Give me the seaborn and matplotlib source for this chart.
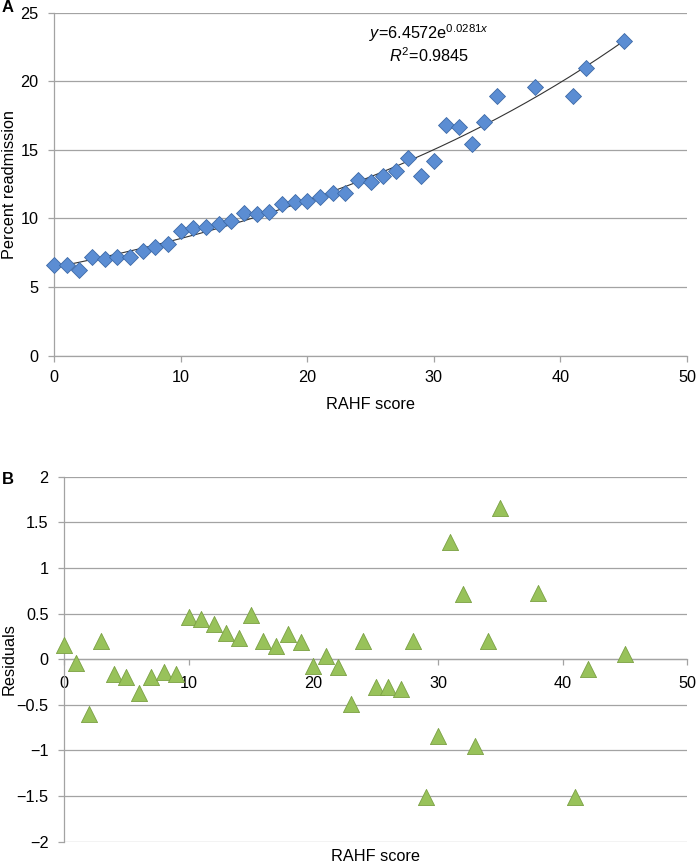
import numpy as np
import pandas as pd
import matplotlib
matplotlib.use("Agg")
import matplotlib.pyplot as plt
from matplotlib.ticker import FuncFormatter, MultipleLocator
import seaborn as sns

# ---- data ----
rahf_score = [0, 1, 2, 3, 4, 5, 6, 7, 8, 9, 10, 11, 12, 13, 14, 15, 16, 17, 18, 19,
              20, 21, 22, 23, 24, 25, 26, 27, 28, 29, 30, 31, 32, 33, 34, 35, 38, 41, 42, 45]
pct_readmission = [6.61, 6.61, 6.25, 7.22, 7.05, 7.17, 7.22, 7.65, 7.90, 8.12,
                   9.11, 9.28, 9.40, 9.60, 9.82, 10.38, 10.30, 10.50, 11.06, 11.22,
                   11.27, 11.59, 11.85, 11.88, 12.80, 12.68, 13.12, 13.46, 14.38, 13.12,
                   14.19, 16.81, 16.65, 15.41, 17.06, 18.95, 19.56, 18.95, 20.95, 22.96]
residuals = [0.16, -0.04, -0.60, 0.20, -0.16, -0.19, -0.37, -0.20, -0.14, -0.16,
             0.46, 0.44, 0.39, 0.29, 0.23, 0.48, 0.20, 0.14, 0.28, 0.19,
             -0.07, 0.03, -0.09, -0.49, 0.20, -0.31, -0.31, -0.33, 0.20, -1.51,
             -0.84, 1.28, 0.72, -0.95, 0.20, 1.66, 0.73, -1.51, -0.11, 0.06]
eq_line1 = r"$\mathit{y}$=6.4572e$^{0.0281\mathit{x}}$"
eq_line2 = r"$\mathit{R}^2$=0.9845"
x_label = "RAHF score"
y_label_a = "Percent readmission"
y_label_b = "Residuals"

df = pd.DataFrame({"score": rahf_score, "pct": pct_readmission, "resid": residuals})

# exponential trendline fitted to the data (log-linear least squares, as Excel does)
b, ln_a = np.polyfit(df["score"], np.log(df["pct"]), 1)
xs = np.linspace(min(rahf_score), max(rahf_score), 200)
trend = pd.DataFrame({"score": xs, "fit": np.exp(ln_a) * np.exp(b * xs)})

sns.set_theme(style="white")
plt.rcParams["font.family"] = ["Liberation Sans", "DejaVu Sans"]
plt.rcParams["mathtext.fontset"] = "custom"
plt.rcParams["mathtext.rm"] = "Liberation Sans"
plt.rcParams["mathtext.it"] = "Liberation Sans:italic"
plt.rcParams["mathtext.bf"] = "Liberation Sans:bold"
plt.rcParams["axes.unicode_minus"] = True
plt.rcParams["text.color"] = "black"
plt.rcParams["axes.labelcolor"] = "black"
plt.rcParams["xtick.color"] = "black"
plt.rcParams["ytick.color"] = "black"

GRID = "#a3a3a3"
FS = 11.7

fig = plt.figure(figsize=(6.96, 8.68), dpi=100)
ax1 = fig.add_axes([54/696, 1-355.7/868, (687-54)/696, (355.7-12.7)/868])
ax2 = fig.add_axes([64/696, 1-841.7/868, (687.3-64)/696, (841.7-476.7)/868])

fmt = FuncFormatter(lambda v, p: ("%g" % v).replace("-", "\u2212"))

def style_axis(ax):
    ax.grid(axis="y", color=GRID, lw=0.9)
    ax.set_axisbelow(True)
    for s in ["top", "right"]:
        ax.spines[s].set_visible(False)
    for s in ["left", "bottom"]:
        ax.spines[s].set_color(GRID)
        ax.spines[s].set_linewidth(0.9)
    ax.tick_params(axis="both", which="major", length=4, width=0.9, color=GRID,
                   labelcolor="black", labelsize=FS, direction="out",
                   bottom=True, left=True)
    ax.tick_params(axis="y", pad=7)
    ax.tick_params(axis="x", pad=6)

# ---- panel A ----
sns.lineplot(data=trend, x="score", y="fit", ax=ax1, color="#333333", lw=0.8, zorder=2)
sns.scatterplot(data=df, x="score", y="pct", ax=ax1, marker="D", s=66,
                color="#5b8dd3", edgecolor="#3d6aa8", linewidth=0.6, zorder=3,
                clip_on=False)
ax1.set_xlim(0, 50)
ax1.set_ylim(0, 25)
ax1.xaxis.set_major_locator(MultipleLocator(10))
ax1.yaxis.set_major_locator(MultipleLocator(5))
style_axis(ax1)
ax1.set_xlabel(x_label, fontsize=FS, labelpad=9)
ax1.set_ylabel(y_label_a, fontsize=FS)
ax1.yaxis.set_label_coords((17 - 54) / 633, 0.5)
ax1.text(29.6, 23.5, eq_line1, ha="center", va="center", fontsize=FS)
ax1.text(29.6, 21.9, eq_line2, ha="center", va="center", fontsize=FS)
fig.text(1.5/696, 1-8/868, "A", fontsize=12, fontweight="bold", ha="left", va="center")

# ---- panel B ----
sns.scatterplot(data=df, x="score", y="resid", ax=ax2, marker="^", s=135,
                color="#98c25a", edgecolor="#7ba043", linewidth=0.6, zorder=3,
                clip_on=False)
ax2.set_xlim(0, 50)
ax2.set_ylim(-2, 2)
ax2.xaxis.set_major_locator(MultipleLocator(10))
ax2.yaxis.set_major_locator(MultipleLocator(0.5))
ax2.yaxis.set_major_formatter(fmt)
style_axis(ax2)
ax2.spines["bottom"].set_position(("data", 0))
ax2.tick_params(axis="x", pad=8)
ax2.set_xlabel("")
ax2.set_ylabel(y_label_b, fontsize=FS)
ax2.yaxis.set_label_coords((17 - 64) / 623.3, 0.5)
ax2.text(0.5, -0.041, x_label, transform=ax2.transAxes, ha="center", va="center", fontsize=FS)
fig.text(1.5/696, 1-479/868, "B", fontsize=12, fontweight="bold", ha="left", va="center")

fig.savefig("out.png", dpi=100)
